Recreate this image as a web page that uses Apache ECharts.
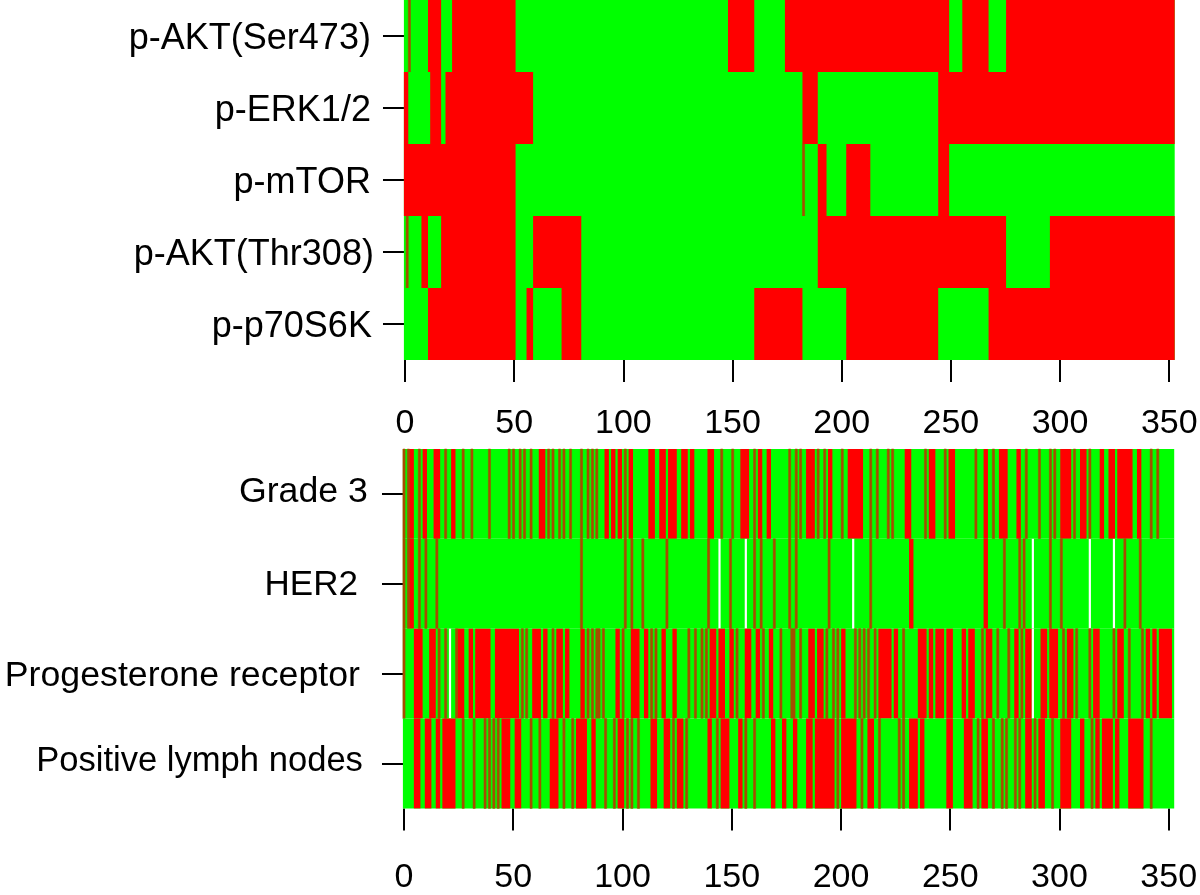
<!DOCTYPE html>
<html><head><meta charset="utf-8">
<style>html,body{margin:0;padding:0;background:#fff}#c{width:1200px;height:895px}</style>
<script src="https://cdn.jsdelivr.net/npm/echarts@6/dist/echarts.min.js"></script>
</head><body><div id="c"></div>
<script>
const topMarkers = ['p-AKT(Ser473)','p-ERK1/2','p-mTOR','p-AKT(Thr308)','p-p70S6K'];
const bottomMarkers = ['Grade 3','HER2','Progesterone receptor','Positive lymph nodes'];
const xTicks = [0,50,100,150,200,250,300,350];
const columnCount = 352;

// red (high) column ranges [first,last]; every other column is green
const aktSer473 = [[2,2],[11,16],[22,50],[148,159],[174,248],[255,266],[275,351]];
const erk12 = [[0,1],[12,16],[19,58],[182,188],[244,351]];
const mtor = [[0,50],[182,182],[189,192],[202,212],[244,248]];
const aktThr308 = [[1,1],[8,10],[17,50],[59,80],[189,274],[295,351]];
const p70s6k = [[11,50],[56,58],[72,80],[160,181],[202,243],[267,351]];

const grade3 = [[0,0],[2,2],[3,4],[7,7],[9,10],[14,16],[19,19],[22,23],[27,27],[31,31],[39,39],[48,48],[50,50],[53,53],[55,55],[58,58],[62,64],[66,66],[68,68],[71,71],[73,73],[76,76],[81,81],[84,84],[86,86],[88,88],[92,93],[95,96],[98,99],[101,101],[103,104],[112,114],[117,119],[121,124],[127,129],[131,132],[139,141],[145,145],[150,150],[154,157],[160,160],[162,163],[166,167],[176,176],[179,179],[181,181],[184,187],[189,189],[192,192],[194,195],[200,200],[203,209],[213,213],[216,216],[221,221],[223,223],[229,231],[238,238],[240,242],[247,247],[249,251],[261,261],[265,266],[269,269],[272,275],[280,281],[284,284],[290,290],[295,295],[297,297],[300,304],[306,306],[309,311],[313,313],[318,319],[322,324],[326,332],[335,336],[341,341],[344,344]];
const her2 = [[0,0],[2,2],[3,4],[7,7],[10,10],[15,15],[81,81],[101,101],[104,104],[109,109],[120,120],[139,139],[149,149],[160,160],[163,163],[169,169],[176,176],[179,179],[194,194],[213,213],[231,232],[265,266],[274,274],[281,281],[283,283],[295,295],[300,300],[329,329],[336,336]];
const progesterone = [[0,0],[5,8],[12,14],[16,16],[19,19],[24,24],[25,27],[30,31],[33,39],[42,52],[54,54],[56,56],[59,62],[64,65],[68,68],[70,72],[74,75],[81,82],[84,84],[86,86],[88,88],[89,89],[91,91],[97,98],[100,100],[104,107],[110,111],[113,113],[115,115],[118,119],[123,124],[130,130],[133,133],[136,136],[138,138],[140,142],[144,146],[149,150],[152,152],[156,158],[161,162],[164,164],[167,168],[172,172],[177,177],[178,178],[181,181],[185,187],[189,191],[193,193],[196,196],[198,198],[200,201],[206,206],[208,208],[210,210],[212,212],[215,215],[217,222],[224,225],[228,228],[235,238],[240,241],[243,246],[248,250],[255,256],[258,260],[264,264],[266,268],[271,271],[276,276],[279,280],[282,282],[284,286],[291,293],[295,298],[301,301],[303,305],[307,307],[313,313],[315,317],[324,324],[326,328],[331,331],[337,337],[339,340],[342,343],[345,350]];
const lymphNodes = [[5,7],[10,12],[15,16],[18,23],[27,27],[32,32],[37,37],[39,39],[41,41],[43,43],[45,48],[51,53],[58,58],[62,62],[67,70],[73,73],[77,77],[79,83],[86,87],[92,92],[96,96],[98,100],[102,102],[104,104],[107,107],[113,115],[119,121],[123,123],[125,127],[129,129],[139,140],[143,143],[145,148],[153,154],[156,156],[160,160],[168,169],[173,174],[178,179],[184,186],[188,196],[198,198],[200,206],[209,209],[212,214],[217,217],[226,226],[228,228],[231,234],[236,237],[248,250],[256,259],[262,262],[264,266],[269,269],[273,273],[275,275],[279,279],[281,281],[284,286],[288,288],[290,292],[296,296],[300,304],[309,310],[314,314],[316,317],[319,323],[325,326],[331,337],[341,341]];
// missing (white) columns
const her2Missing = [144,156,205,287,313,324];
const progesteroneMissing = [21,287];

const topRows = [aktSer473,erk12,mtor,aktThr308,p70s6k];
const bottomRows = [grade3,her2,progesterone,lymphNodes];
const bottomMissing = [[],her2Missing,progesteroneMissing,[]];

const RED='#ff0000', GREEN='#00ff00', NARROW='#a84c00', FONT='"Liberation Sans", Arial, sans-serif';
const span = 353/columnCount;
const edge = j => -0.5 + j*span;

// per-row label placement: [extra gap right of text, shift down (px), font size]
const topLabelStyle = [[3,3.5,36],[3,3.5,36],[3,3,36],[0,3,36],[2,3.5,36]];
const bottomLabelStyle = [[-1,-2,35.7],[10,2,35],[8,3,35.7],[5,-2,34.6]];

function build(rows, missing){
  const out=[];
  rows.forEach((runs,r)=>{
    out.push([0,columnCount-1,r,0]);
    runs.forEach(([a,b])=>out.push([a,b,r,1]));
    ((missing&&missing[r])||[]).forEach(c=>out.push([c,c,r,2]));
  });
  return out;
}
function renderCell(params, api){
  const a=api.value(0), b=api.value(1), r=api.value(2), s=api.value(3);
  const p0=api.coord([edge(a),r]), p1=api.coord([edge(b+1),r]);
  const h=api.size([0,1])[1];
  let fill=GREEN;
  const narrow = s===1 && b===a;
  if(s===1) fill = narrow ? NARROW : RED;
  if(s===2) fill = '#ffffff';
  const style = narrow ? {fill:fill,stroke:fill,lineWidth:0.5} : {fill:fill};
  return {type:'rect',shape:{x:p0[0],y:p0[1]-h/2,width:p1[0]-p0[0],height:h},style:style,silent:true};
}
function xAxisOf(i,margin){
  return {gridIndex:i,type:'value',min:-0.5,max:352.5,position:'bottom',
    splitLine:{show:false},axisLine:{show:false},
    axisTick:{show:true,length:22,lineStyle:{color:'#000',width:2},customValues:xTicks},
    axisLabel:{show:true,customValues:xTicks,color:'#000',fontFamily:FONT,fontSize:34,margin:margin,hideOverlap:false,showMinLabel:true,showMaxLabel:true}};
}
function yAxisOf(i,names,margin,styles){
  const rich={};
  styles.forEach(([gap,down,size],k)=>{
    rich['r'+k]={fontFamily:FONT,fontSize:size,color:'#000',
      padding:[Math.max(down,0)*2,Math.max(gap,0),Math.max(-down,0)*2,0]};
  });
  return {gridIndex:i,type:'category',inverse:true,data:names,
    axisLine:{show:false},splitLine:{show:false},
    axisTick:{show:true,alignWithLabel:true,length:22,lineStyle:{color:'#000',width:2}},
    axisLabel:{margin:margin,interval:0,rich:rich,formatter:(v,idx)=>`{r${idx}|${v}}`}};
}
const chart=echarts.init(document.getElementById('c'),null,{renderer:'canvas'});
chart.setOption({
  animation:false,backgroundColor:'#fff',
  grid:[{left:403.9,top:0,width:770.8,height:360,outerBoundsMode:'none'},{left:402.9,top:449,width:771.3,height:359.4,outerBoundsMode:'none'}],
  xAxis:[xAxisOf(0,47),xAxisOf(1,52)],
  yAxis:[yAxisOf(0,topMarkers,30,topLabelStyle),yAxisOf(1,bottomMarkers,35,bottomLabelStyle)],
  series:[
    {type:'custom',xAxisIndex:0,yAxisIndex:0,renderItem:renderCell,clip:false,encode:{x:[0,1],y:2},data:build(topRows)},
    {type:'custom',xAxisIndex:1,yAxisIndex:1,renderItem:renderCell,clip:false,encode:{x:[0,1],y:2},data:build(bottomRows,bottomMissing)}
  ]
});
</script></body></html>
